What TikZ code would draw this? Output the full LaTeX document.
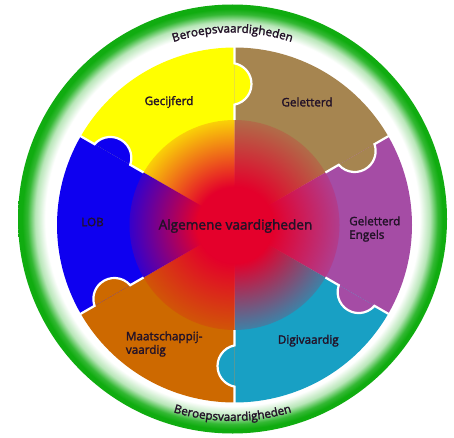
\documentclass[tikz,border=0pt]{standalone}
\usepackage{fontspec}
\setmainfont{Open Sans}
\newfontfamily\medfont{Open Sans}[FakeBold=2]
\usetikzlibrary{fadings,decorations.text}

\definecolor{ringgreen}{RGB}{16,172,16}
\definecolor{cyellow}{RGB}{255,255,0}
\definecolor{cbrown}{RGB}{166,133,80}
\definecolor{cpurple}{RGB}{165,76,165}
\definecolor{cblue}{RGB}{14,0,240}
\definecolor{ccyan}{RGB}{24,160,196}
\definecolor{corange}{RGB}{205,105,0}
\definecolor{cred}{RGB}{228,0,43}
\definecolor{labelcol}{RGB}{35,18,40}

\pgfdeclareradialshading{ringshade}{\pgfpointorigin}{color(0bp)=(white); color(21.8bp)=(white); color(23.0bp)=(ringgreen!30!white); color(23.9bp)=(ringgreen!85!white); color(24.5bp)=(ringgreen); color(50bp)=(ringgreen)}
\pgfdeclareradialshading{discfadeshade}{\pgfpointorigin}{color(0bp)=(pgftransparent!0); color(9bp)=(pgftransparent!0); color(25bp)=(pgftransparent!82); color(50bp)=(pgftransparent!100)}
\pgfdeclarefading{discfade}{\pgfuseshading{discfadeshade}}

\newcommand\ringtextfont{\medfont\fontsize{11.7}{14}\selectfont}

\tikzset{
  lbl/.style={text=labelcol, font=\medfont\fontsize{11.7}{13.5}\selectfont, inner sep=0pt},
  seam/.style={draw=white, line width=2.2pt},
  ringtext/.style={decorate, decoration={text along path, text align=center, text color=labelcol, text={|\ringtextfont|Beroepsvaardigheden}}}
}

\begin{document}
\begin{tikzpicture}[x=1pt,y=1pt]
\useasboundingbox[fill=white] (0,0) rectangle (454,437);
\coordinate (RC) at (232.5,218);
\coordinate (W) at (234.5,212);

% outer green ring
\shade[shading=ringshade] (RC) circle[radius=214.5];

\begin{scope}[shift={(W)}]
  % sectors
  \foreach \a/\c in {90/cyellow, 30/cbrown, -30/cpurple, -90/ccyan, -150/corange, 150/cblue}{
    \fill[\c] (0,0) -- (\a:177.5) arc[start angle=\a, end angle=\a+60, radius=177.5] -- cycle;
  }
  % puzzle tabs (owner sector bulges clockwise into its neighbour)
  \foreach \a/\c in {90/cyellow, 30/cbrown, -30/cpurple, -90/ccyan, -150/corange, 150/cblue}{
    \fill[\c, rotate=\a] (161.6,0) arc[start angle=-11, end angle=-169, radius=21] -- cycle;
  }
  % centre disc
  \fill[cred, path fading=discfade] (0,0) circle[radius=105];
  % white seams
  \foreach \a in {90,30,-30,-90,-150,150}{
    \draw[seam, rotate=\a] (105,0) -- (120.4,0) arc[start angle=-169, end angle=-11, radius=21] -- (178,0);
  }
\end{scope}

% curved ring texts
\begin{scope}[shift={(RC)}]
  \path[ringtext] (125:186.5) arc[start angle=125, end angle=55, radius=186.5];
  \path[ringtext] (-125:202) arc[start angle=-125, end angle=-55, radius=202];
\end{scope}

% labels
\node[lbl] (gec) at (169,335) {Gecijferd};
\node[lbl] (gel) at (307,335) {Geletterd};
\node[lbl] (lob) at (92.5,215) {LOB};
\node[lbl, anchor=west, align=left] (eng) at (349,208) {Geletterd\\Engels};
\node[lbl, anchor=west, align=left] (maa) at (125.7,93) {Maatschappij-\\vaardig};
\node[lbl] (dig) at (308.3,96.3) {Digivaardig};
\node[lbl, font=\medfont\fontsize{13.6}{16}\selectfont] (alg) at (235.5,211) {Algemene vaardigheden};
\end{tikzpicture}
\end{document}
